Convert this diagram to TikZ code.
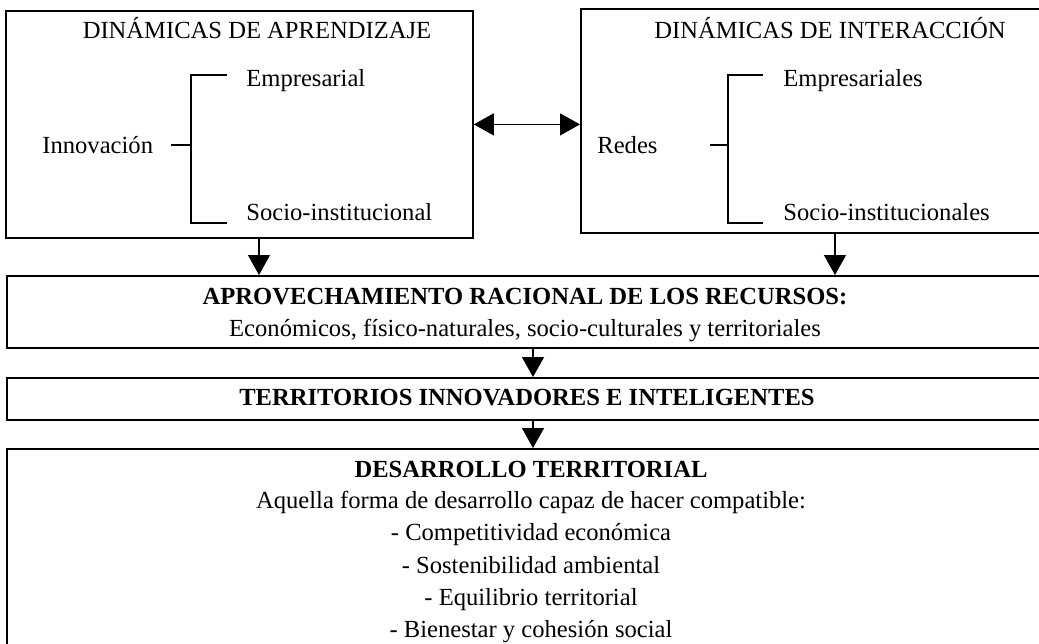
\documentclass[tikz,border=0pt]{standalone}
\usepackage{fontspec}
\setmainfont{Liberation Serif}
\usetikzlibrary{arrows.meta, positioning, calc}
\tikzset{
  panel/.style={
    rectangle, draw=black, line width=0.9pt, anchor=north west, inner sep=0pt
  },
  txt/.style={inner sep=0pt, font=\fontsize{12.3}{16.1}\selectfont, align=center},
  head/.style={txt, font=\fontsize{12.3}{16.1}\selectfont\bfseries},
  tree/.style={line width=0.6pt},
  flow/.style={-{Triangle[length=10pt, width=11pt]}, line width=0.6pt},
  link/.style={{Triangle[length=10pt, width=11pt]}-{Triangle[length=10pt, width=11pt]}, line width=0.6pt}
}

\begin{document}
\begin{tikzpicture}[x=0.5pt, y=-0.5pt]
    \useasboundingbox (0,0) rectangle (1039,643);
    \clip (0,0) rectangle (1039,643);
    % boxes
    \node[panel, minimum width=233.5pt, minimum height=113.5pt] (learn) at (5,10) {};
    \node[panel, minimum width=240pt, minimum height=112pt] (inter) at (580,8) {};
    \node[panel, minimum width=530pt, minimum height=36pt] (recur) at (6,275) {};
    \node[panel, minimum width=530pt, minimum height=21pt] (terr) at (6,377) {};
    \node[panel, minimum width=530pt, minimum height=110pt] (desa) at (6,448) {};
    % learning dynamics
    \node[txt] (ltitle) at (257,28) {DINÁMICAS DE APRENDIZAJE};
    \node[txt, anchor=west] (innov) at (42,145) {Innovación};
    \node[txt, anchor=west] (lemp) at (246,81) {Empresarial};
    \node[txt, anchor=west] (lsoc) at (246,212) {Socio-institucional};
    \coordinate (lfork) at (191,145);
    \coordinate (ltop) at (227,75);
    \coordinate (lbot) at (227,223);
    \draw[tree] ([xshift=9pt]innov.east) -- (lfork);
    \draw[tree] (ltop) -| (lfork) |- (lbot);
    % interaction dynamics
    \node[txt] (rtitle) at (830,28) {DINÁMICAS DE INTERACCIÓN};
    \node[txt, anchor=west] (redes) at (597,145) {Redes};
    \node[txt, anchor=west] (remp) at (783,81) {Empresariales};
    \node[txt, anchor=west] (rsoc) at (783,212) {Socio-institucionales};
    \coordinate (rfork) at (728,145);
    \coordinate (rtop) at (763,75);
    \coordinate (rbot) at (763,223);
    \draw[tree] ([xshift=26pt]redes.east) -- (rfork);
    \draw[tree] (rtop) -| (rfork) |- (rbot);
    % lower boxes
    \node[txt] (rtext) at (525,315) {\textbf{APROVECHAMIENTO RACIONAL DE LOS RECURSOS:}\\
      Económicos, físico-naturales, socio-culturales y territoriales};
    \node[head] (ttext) at (527,398) {TERRITORIOS INNOVADORES E INTELIGENTES};
    \node[head] (dhead) at (531,469) {DESARROLLO TERRITORIAL};
    \node[txt] (dtext) at (531,567) {Aquella forma de desarrollo capaz de hacer compatible:\\
      - Competitividad económica\\
      - Sostenibilidad ambiental\\
      - Equilibrio territorial\\
      - Bienestar y cohesión social};
    % arrows
    \coordinate (la) at (259,0);
    \coordinate (ra) at (835,0);
    \coordinate (ma) at (533,0);
    \draw[link] (learn.east) -- (learn.east -| inter.west);
    \draw[flow] (learn.south -| la) -- (recur.north -| la);
    \draw[flow] (inter.south -| ra) -- (recur.north -| ra);
    \draw[flow] (recur.south -| ma) -- (terr.north -| ma);
    \draw[flow] (terr.south -| ma) -- (desa.north -| ma);
\end{tikzpicture}
\end{document}
